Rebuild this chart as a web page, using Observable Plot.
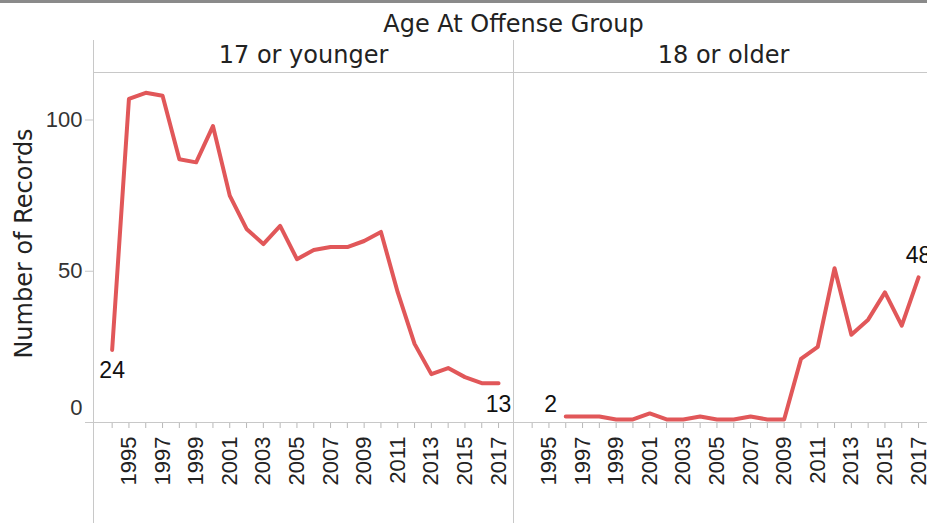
<!DOCTYPE html>
<html><head><meta charset="utf-8">
<script src="https://cdn.jsdelivr.net/npm/d3@7"></script>
<script src="https://cdn.jsdelivr.net/npm/@observablehq/plot@0.6"></script>
<style>
html,body{margin:0;padding:0;background:#fff;overflow:hidden;width:927px;height:523px;}
#topbar{position:absolute;left:0;top:0;width:927px;height:3px;background:#8a8a8a;z-index:2}
#chart svg{max-width:none !important;display:block}
</style></head><body>
<div id="topbar"></div>
<div id="chart"></div>
<script>
const years = [1994,1995,1996,1997,1998,1999,2000,2001,2002,2003,2004,2005,2006,2007,2008,2009,2010,2011,2012,2013,2014,2015,2016,2017];
const panels = ["17 or younger", "18 or older"];
const youngerCounts = [24,107,109,108,87,86,98,75,64,59,65,54,57,58,58,60,63,43,26,16,18,15,13,13];
const olderCounts = [null,null,2,2,2,1,1,3,1,1,2,1,1,2,1,1,21,25,51,29,34,43,32,48];
const yearTicks = [1995,1997,1999,2001,2003,2005,2007,2009,2011,2013,2015,2017];
const yTicksUpper = [50,100];
const yTickZero = [0];
const facetTitle = "Age At Offense Group";
const yTitle = "Number of Records";

const xDomain = [1992.89, 2017.89];
const yDomain = [0, 115.7];

const rows = [];
years.forEach((yr, i) => {
  if (youngerCounts[i] != null) rows.push({panel: panels[0], year: yr, value: youngerCounts[i]});
  if (olderCounts[i] != null) rows.push({panel: panels[1], year: yr, value: olderCounts[i]});
});
const series = p => rows.filter(d => d.panel === p);
const firstOf = p => series(p)[0];
const lastOf = p => { const s = series(p); return s[s.length - 1]; };

const lineColor = "#e15759";
const border = "#c8c8c8";
const numFont = "Liberation Sans";

const labelOpts = {fx: "panel", x: "year", y: "value", text: d => String(d.value), fontSize: 23, fontFamily: numFont, fill: "#111"};

const chart = Plot.plot({
  width: 933,
  height: 523,
  marginLeft: 93,
  marginRight: 0,
  marginTop: 72,
  marginBottom: 101,
  x: {domain: xDomain},
  y: {domain: yDomain, label: null},
  fx: {domain: panels, padding: 0, axis: null, label: null},
  style: {fontFamily: "DejaVu Sans", maxWidth: "none", background: "white", color: "#222"},
  marks: [
    Plot.ruleY([yDomain[1]], {stroke: border}),
    Plot.ruleX([xDomain[0]], {stroke: border, insetTop: -32, insetBottom: -101}),
    Plot.axisX({ticks: years, tickSize: 6, tickFormat: () => "", stroke: "#b8b8b8", label: null}),
    Plot.axisX({ticks: yearTicks, tickSize: 0, tickPadding: 14, tickRotate: -90, tickFormat: d => String(d), fontSize: 22, fontFamily: numFont, fill: "#222", label: null}),
    Plot.ruleY([0], {stroke: border, insetLeft: -8}),
    Plot.axisY({ticks: yTicksUpper, tickSize: 8, tickPadding: 3, stroke: border, fill: "#333", fontSize: 22, fontFamily: numFont, label: null}),
    Plot.axisY({ticks: yTickZero, tickSize: 0, tickPadding: 11, dy: -15, fill: "#333", fontSize: 22, fontFamily: numFont, label: null}),
    Plot.text([facetTitle], {fx: () => panels[0], text: d => d, frameAnchor: "top-right", dy: -48, textAnchor: "middle", lineAnchor: "middle", fontSize: 24, fill: "#222"}),
    Plot.text(panels, {fx: d => d, text: d => d, frameAnchor: "top", dy: -17, textAnchor: "middle", lineAnchor: "middle", fontSize: 24, fill: "#222"}),
    Plot.text([yTitle], {fx: () => panels[0], text: d => d, frameAnchor: "left", rotate: -90, dx: -69, dy: -4, textAnchor: "middle", lineAnchor: "middle", fontSize: 24, fill: "#222"}),
    Plot.line(rows, {fx: "panel", x: "year", y: "value", stroke: lineColor, strokeWidth: 4, strokeLinejoin: "round", strokeLinecap: "round"}),
    Plot.text([firstOf(panels[0]), lastOf(panels[0])], {...labelOpts, dy: 21}),
    Plot.text([firstOf(panels[1])], {...labelOpts, dx: -15, dy: -12}),
    Plot.text([lastOf(panels[1])], {...labelOpts, dy: -22})
  ]
});
document.getElementById("chart").appendChild(chart);
</script>
</body></html>
